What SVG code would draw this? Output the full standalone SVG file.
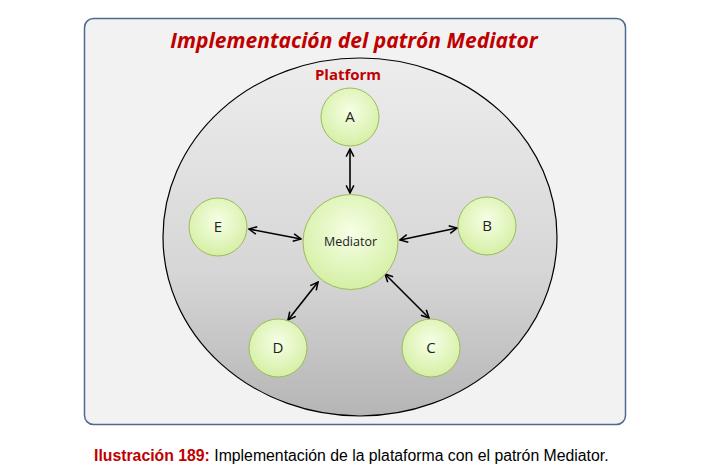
<svg xmlns="http://www.w3.org/2000/svg" width="723" height="464" viewBox="0 0 723 464">
<style>
.node{fill:url(#ng);stroke:#9bbb59;stroke-width:1}
.lbl{font-family:"Open Sans","Liberation Sans",sans-serif;font-size:15px;fill:#222;text-anchor:middle}
.conn line{stroke:#000;stroke-width:1.6;marker-start:url(#ah);marker-end:url(#ah)}
</style>
<defs>
<radialGradient id="ng" cx="0.5" cy="0.4" r="0.6">
<stop offset="0" stop-color="#f6ffe6"/>
<stop offset="1" stop-color="#d5efa4"/>
</radialGradient>
<linearGradient id="pg" x1="0" y1="0" x2="0" y2="1">
<stop offset="0" stop-color="#ededed"/>
<stop offset="0.6" stop-color="#d6d6d6"/>
<stop offset="1" stop-color="#b5b5b5"/>
</linearGradient>
<marker id="ah" viewBox="0 0 10 10" refX="9" refY="5" markerWidth="6" markerHeight="6" orient="auto-start-reverse" markerUnits="strokeWidth">
<path d="M1,1 L9,5 L1,9" fill="none" stroke="#000" stroke-width="1.6"/>
</marker>
</defs>
<g id="frame">
<rect x="84.5" y="18.5" width="541" height="406" rx="9" fill="#f2f2f2" stroke="#4f6a8f" stroke-width="1.5"/>
<text x="354" y="48" font-family="'Open Sans','Liberation Sans',sans-serif" font-size="21" font-weight="bold" font-style="italic" fill="#c00000" text-anchor="middle">Implementación del patrón Mediator</text>
</g>
<g id="platform">
<ellipse cx="360" cy="237" rx="197" ry="179" fill="url(#pg)" stroke="#000" stroke-width="1.2"/>
<text x="348" y="80" font-family="'Open Sans','Liberation Sans',sans-serif" font-size="15" font-weight="bold" fill="#c00000" text-anchor="middle">Platform</text>
</g>
<g class="conn" id="connectors">
<line x1="350" y1="149" x2="350" y2="193"/>
<line x1="249" y1="229" x2="301" y2="239"/>
<line x1="457" y1="228" x2="400" y2="240"/>
<line x1="288" y1="320" x2="318" y2="282"/>
<line x1="385" y1="274" x2="429" y2="318"/>
</g>
<g id="mediator"><circle class="node" cx="350.5" cy="242" r="47.5"/><text class="lbl" x="350.5" y="246" style="font-size:12.5px">Mediator</text></g>
<g id="A"><circle class="node" cx="350" cy="117" r="29"/><text class="lbl" x="350" y="122">A</text></g>
<g id="B"><circle class="node" cx="487" cy="226" r="29"/><text class="lbl" x="487" y="231">B</text></g>
<g id="C"><circle class="node" cx="431" cy="348" r="29"/><text class="lbl" x="431" y="353">C</text></g>
<g id="D"><circle class="node" cx="278" cy="348" r="29"/><text class="lbl" x="278" y="353">D</text></g>
<g id="E"><circle class="node" cx="218" cy="227" r="29"/><text class="lbl" x="218" y="232">E</text></g>
<g id="caption">
<text x="94" y="461" font-family="'Liberation Sans',sans-serif" font-size="15.8" fill="#000"><tspan font-weight="bold" fill="#c00000">Ilustración 189:</tspan> Implementación de la plataforma con el patrón Mediator.</text>
</g>
</svg>
